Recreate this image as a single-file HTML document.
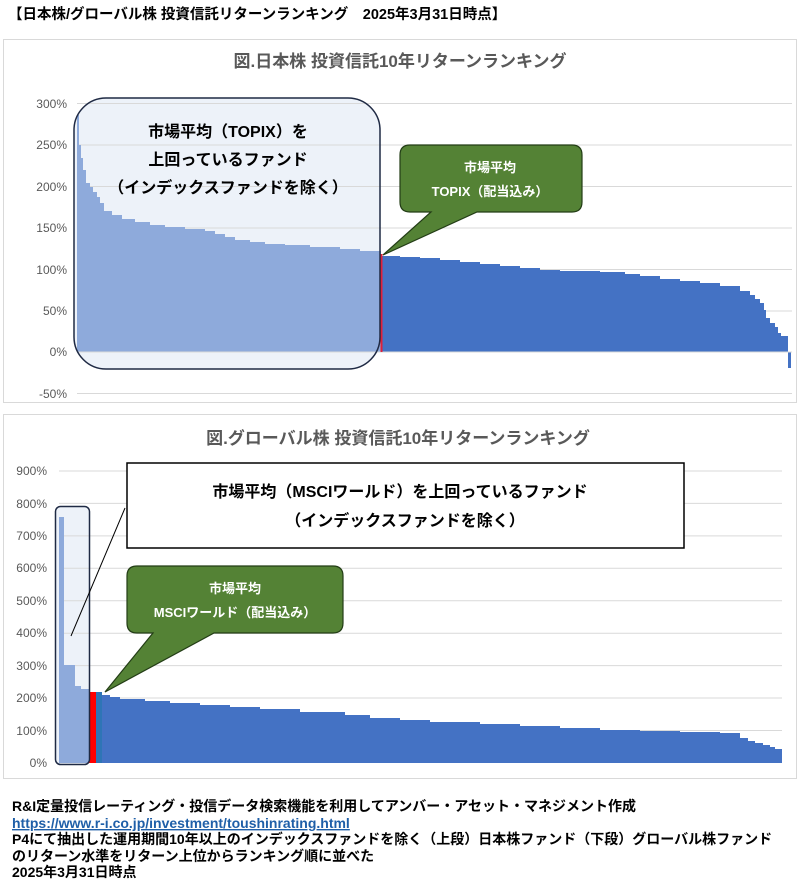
<!DOCTYPE html>
<html><head><meta charset="utf-8"><style>
html,body{margin:0;padding:0;background:#fff;}
svg{display:block;font-family:"Liberation Sans","Noto Sans CJK JP",sans-serif;}
</style></head><body>
<svg width="800" height="890" viewBox="0 0 800 890" xmlns="http://www.w3.org/2000/svg">
<rect width="800" height="890" fill="#fff"/>
<text x="8" y="19" font-size="14.5" font-weight="bold" fill="#000">【日本株/グローバル株 投資信託リターンランキング　2025年3月31日時点】</text>

<!-- TOP CHART -->
<rect x="3.5" y="39.5" width="793" height="363" fill="#fff" stroke="#d9d9d9"/>
<text x="400" y="67" font-size="17" font-weight="bold" fill="#595959" text-anchor="middle">図.日本株  投資信託10年リターンランキング</text>
<rect x="74" y="98" width="306" height="271" rx="32" fill="#edf2f9"/>
<g stroke="#d9d9d9" stroke-width="1">
<line x1="77" x2="792" y1="103.5" y2="103.5"/><line x1="77" x2="792" y1="145" y2="145"/>
<line x1="77" x2="792" y1="186.5" y2="186.5"/><line x1="77" x2="792" y1="228" y2="228"/>
<line x1="77" x2="792" y1="269.5" y2="269.5"/><line x1="77" x2="792" y1="311" y2="311"/>
<line x1="77" x2="792" y1="393.5" y2="393.5"/>
</g>
<g font-size="12" fill="#595959" text-anchor="end">
<text x="67" y="108">300%</text><text x="67" y="149">250%</text><text x="67" y="191">200%</text>
<text x="67" y="232">150%</text><text x="67" y="274">100%</text><text x="67" y="315">50%</text>
<text x="67" y="356">0%</text><text x="67" y="398">-50%</text>
</g>
<path fill="#8eaadb" d="M77,352 V115 H79 V145 H81 V158 H83 V170 H86 V183 H90 V187 H93 V192 H97 V197 H100 V203 H104 V211 H112 V215 H122 V219 H135 V222 H150 V225 H165 V227 H185 V229 H205 V231 H215 V234 H225 V237 H235 V240 H250 V242 H265 V244 H285 V245 H310 V247 H340 V249 H360 V251 H381 V352 Z"/>
<path fill="#4472c4" d="M381,352 V256 H400 V257 H420 V258 H440 V260 H460 V262 H480 V264 H500 V266 H520 V268 H540 V270 H560 V271 H600 V272 H625 V274 H640 V276 H660 V279 H680 V281 H700 V283 H720 V286 H740 V291 H750 V295 H755 V299 H760 V303 H764 V310 H766 V318 H770 V323 H775 V327 H778 V333 H781 V336 H788 V352 Z"/>
<rect x="788" y="352" width="3" height="16" fill="#4472c4"/>
<line x1="77" x2="792" y1="352" y2="352" stroke="#d9d9d9"/>
<rect x="380.5" y="254" width="2" height="98" fill="#e0203a"/>
<rect x="74" y="98" width="306" height="271" rx="32" fill="none" stroke="#1f2a44" stroke-width="1.5"/>
<g font-size="16" font-weight="bold" fill="#000" text-anchor="middle">
<text x="228" y="137">市場平均（TOPIX）を</text>
<text x="228" y="165">上回っているファンド</text>
<text x="228" y="193">（インデックスファンドを除く）</text>
</g>
<path d="M410,145 H572 Q582,145 582,155 V202 Q582,212 572,212 H477 L383,255 L431,212 H410 Q400,212 400,202 V155 Q400,145 410,145 Z" fill="#548235" stroke="#233d16" stroke-width="1.2"/>
<g font-size="13" font-weight="bold" fill="#fff" text-anchor="middle">
<text x="490" y="172">市場平均</text>
<text x="490" y="196">TOPIX（配当込み）</text>
</g>

<!-- BOTTOM CHART -->
<rect x="3.5" y="414.5" width="793" height="364" fill="#fff" stroke="#d9d9d9"/>
<text x="398" y="444" font-size="17" font-weight="bold" fill="#595959" text-anchor="middle">図.グローバル株  投資信託10年リターンランキング</text>
<rect x="55.5" y="506.5" width="34" height="258" rx="5" fill="#edf2f9"/>
<g stroke="#d9d9d9" stroke-width="1">
<line x1="59" x2="782" y1="471" y2="471"/><line x1="59" x2="782" y1="503.4" y2="503.4"/>
<line x1="59" x2="782" y1="535.9" y2="535.9"/><line x1="59" x2="782" y1="568.3" y2="568.3"/>
<line x1="59" x2="782" y1="600.8" y2="600.8"/><line x1="59" x2="782" y1="633.2" y2="633.2"/>
<line x1="59" x2="782" y1="665.6" y2="665.6"/><line x1="59" x2="782" y1="698" y2="698"/>
<line x1="59" x2="782" y1="730.5" y2="730.5"/>
</g>
<g font-size="12" fill="#595959" text-anchor="end">
<text x="47" y="475">900%</text><text x="47" y="508">800%</text><text x="47" y="540">700%</text>
<text x="47" y="572">600%</text><text x="47" y="605">500%</text><text x="47" y="637">400%</text>
<text x="47" y="670">300%</text><text x="47" y="702">200%</text><text x="47" y="735">100%</text>
<text x="47" y="767">0%</text>
</g>
<g transform="translate(0,5)">
<path fill="#8eaadb" d="M59,758 V512 H64 V660 H75 V681 H81 V684 H89 V758 Z"/>
<rect x="89" y="687" width="7" height="71" fill="#ff0000"/>
<rect x="96" y="687" width="6" height="71" fill="#2e75b6"/>
<path fill="#4472c4" d="M102,758 V690 H110 V692 H120 V694 H145 V696 H170 V698 H200 V700 H230 V702 H260 V704 H300 V707 H345 V710 H370 V713 H400 V715 H430 V717 H480 V719 H520 V721 H560 V723 H600 V725 H640 V726 H680 V727 H720 V728 H740 V733 H748 V736 H755 V738 H763 V740 H770 V742 H775 V744 H782 V758 Z"/>
</g>
<rect x="55.5" y="506.5" width="34" height="258" rx="5" fill="none" stroke="#1f2a44" stroke-width="1.5"/>
<line x1="125" y1="508" x2="71" y2="636" stroke="#000" stroke-width="1"/>
<rect x="127" y="463" width="557" height="85" fill="#fff" stroke="#000" stroke-width="1.5"/>
<g font-size="16" font-weight="bold" fill="#000" text-anchor="middle">
<text x="400" y="497">市場平均（MSCIワールド）を上回っているファンド</text>
<text x="405" y="526">（インデックスファンドを除く）</text>
</g>
<path d="M137,566 H333 Q343,566 343,576 V623 Q343,633 333,633 H214 L105,692 L153,633 H137 Q127,633 127,623 V576 Q127,566 137,566 Z" fill="#548235" stroke="#233d16" stroke-width="1.2"/>
<g font-size="13" font-weight="bold" fill="#fff" text-anchor="middle">
<text x="235" y="593">市場平均</text>
<text x="235" y="617">MSCIワールド（配当込み）</text>
</g>

<!-- FOOTER -->
<g font-size="14" font-weight="bold" fill="#000">
<text x="12" y="811">R&amp;I定量投信レーティング・投信データ検索機能を利用してアンバー・アセット・マネジメント作成</text>
<text x="12" y="828" fill="#1f5fa8" text-decoration="underline">https://www.r-i.co.jp/investment/toushinrating.html</text>
<text x="12" y="844">P4にて抽出した運用期間10年以上のインデックスファンドを除く（上段）日本株ファンド（下段）グローバル株ファンド</text>
<text x="12" y="861">のリターン水準をリターン上位からランキング順に並べた</text>
<text x="12" y="877">2025年3月31日時点</text>
</g>
</svg>
</body></html>
